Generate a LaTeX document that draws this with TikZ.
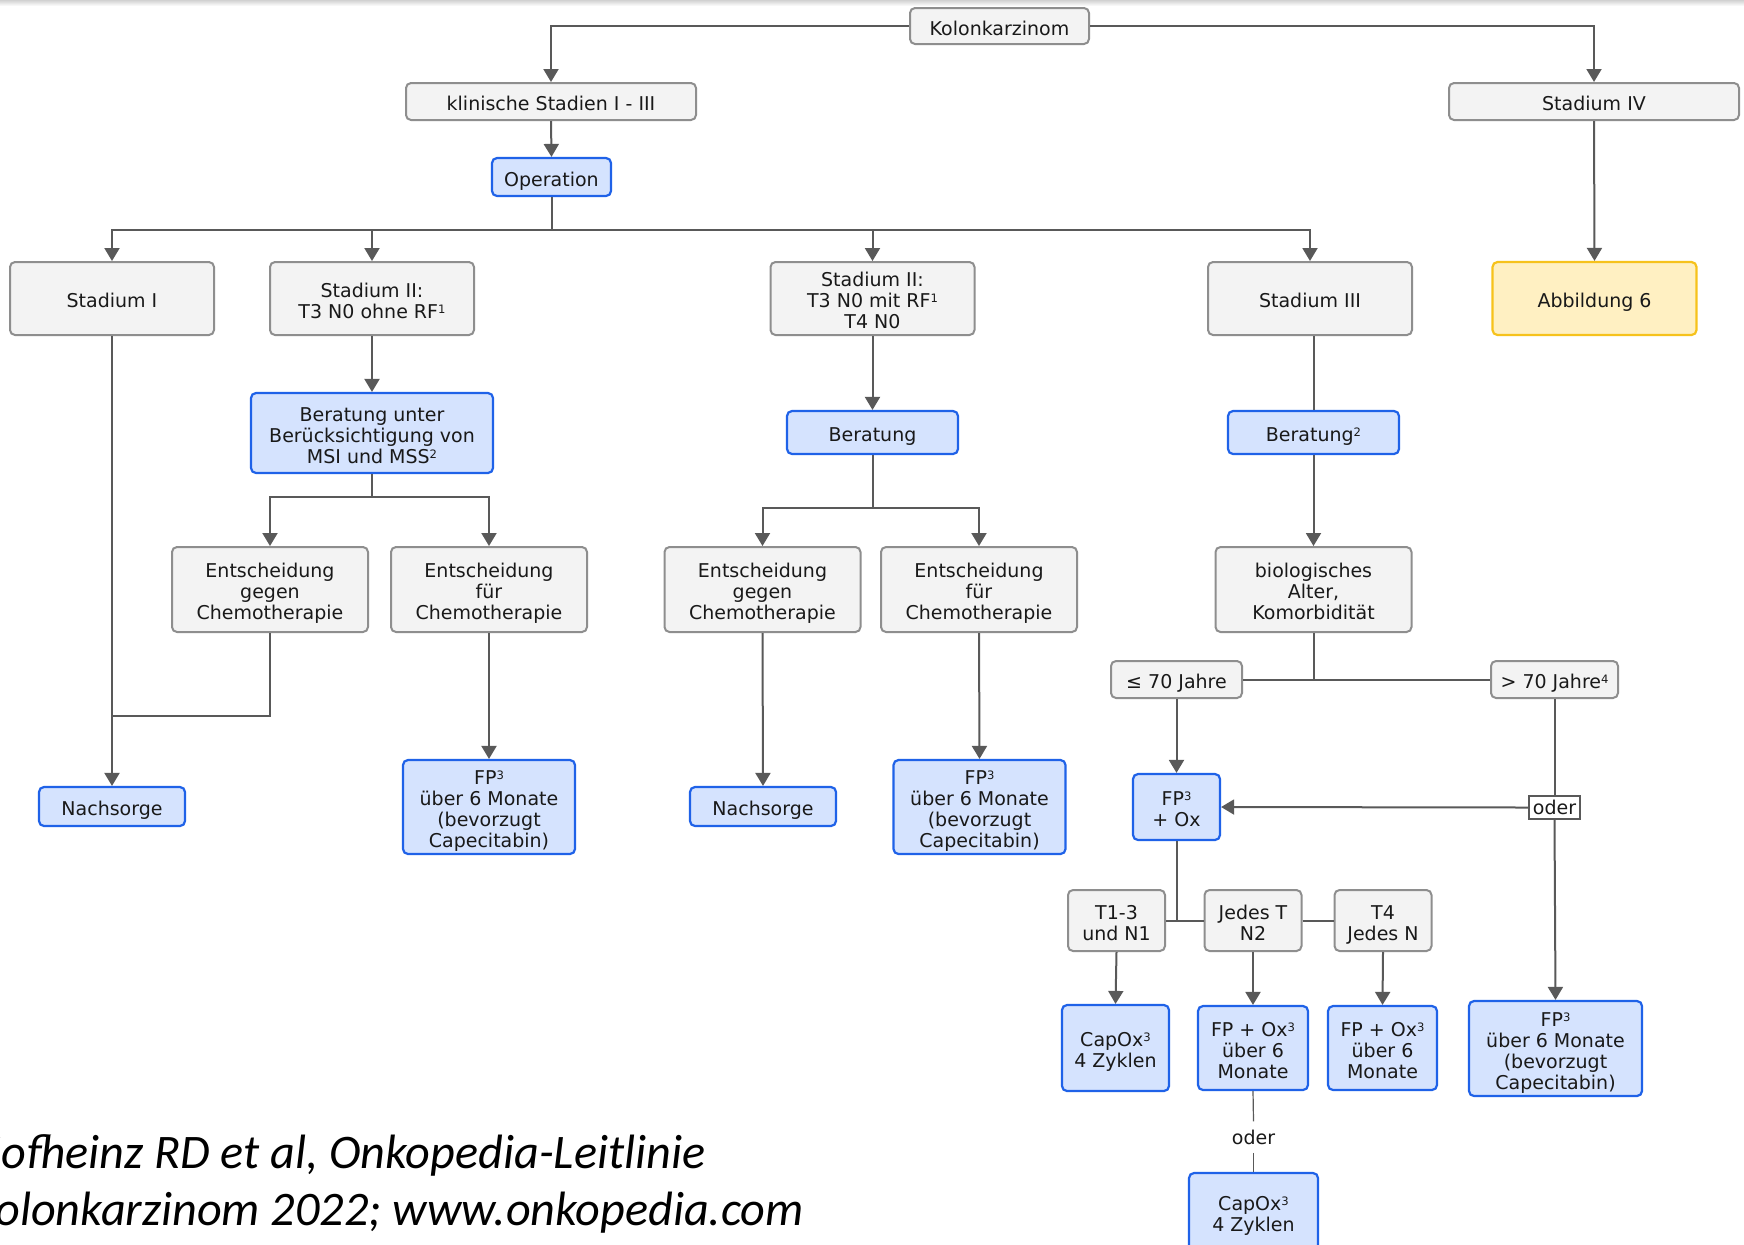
\documentclass[tikz,border=0pt]{standalone}
\usepackage{fontspec}
\setmainfont{DejaVu Sans}
\newfontfamily\citefont{Carlito}
\usetikzlibrary{arrows.meta,calc}
\definecolor{grayfill}{HTML}{F3F3F3}
\definecolor{graybd}{HTML}{8E8E8E}
\definecolor{bluefill}{HTML}{D5E3FE}
\definecolor{bluebd}{HTML}{1F62E8}
\definecolor{yelfill}{HTML}{FFF0C2}
\definecolor{yelbd}{HTML}{F6C21C}
\definecolor{linec}{HTML}{595959}
\newcommand{\bs}{\rule{0pt}{11.7pt}}
\newcommand{\es}{\rule[-2.5pt]{0pt}{0pt}}
\tikzset{
  plaintext/.style={font=\fontsize{9.5}{10.5}\selectfont, align=center, inner sep=0pt, text=black!90},
  boxtext/.style={plaintext,
    execute at begin node={\bs}, execute at end node={\es}},
  gbox/.style={boxtext, draw=graybd, fill=grayfill, line width=1pt, rounded corners=2.5pt},
  bbox/.style={boxtext, draw=bluebd, fill=bluefill, line width=1.1pt, rounded corners=2.5pt},
  ybox/.style={boxtext, draw=yelbd, fill=yelfill, line width=1.1pt, rounded corners=2.5pt},
  obox/.style={plaintext, draw=linec, fill=white, line width=1.1pt, minimum width=25.5pt, minimum height=11.5pt},
  conn/.style={draw=linec, line width=1pt},
  thin/.style={draw=linec, line width=0.6pt},
  arr/.style={conn, -{Triangle[width=7.5pt,length=6.5pt]}},
}
\newcommand{\sps}[1]{\raisebox{2.6pt}{\fontsize{5.8}{6}\selectfont #1}}
\begin{document}
\begin{tikzpicture}[x=0.5pt,y=-0.5pt]
\useasboundingbox (0,0) rectangle (1744,1244);
\fill[white] (0,0) rectangle (1744,1244);
\shade[top color=black!18, bottom color=white] (0,0) rectangle (1744,6);

% top levels
\node[gbox, minimum width=89.5pt, minimum height=18pt] (K) at (999.5,26) {Kolonkarzinom};
\node[gbox, minimum width=145pt, minimum height=18.5pt] (klin) at (551,101.5) {klinische Stadien I - III};
\node[gbox, minimum width=145pt, minimum height=18.5pt] (st4) at (1594,101.5) {Stadium IV};
\node[bbox, minimum width=59.5pt, minimum height=19pt] (op) at (551.5,177) {Operation};

% stadium row
\node[gbox, minimum width=102pt, minimum height=36.5pt] (s1) at (112,298.5) {Stadium I};
\node[gbox, minimum width=102pt, minimum height=36.5pt] (s2a) at (372,298.5) {\bs Stadium II:\\T3 N0 ohne RF\sps{1}\es};
\node[gbox, minimum width=102pt, minimum height=36.5pt] (s2b) at (872.5,298.5) {\bs Stadium II:\\T3 N0 mit RF\sps{1}\\T4 N0\es};
\node[gbox, minimum width=102pt, minimum height=36.5pt] (s3) at (1310,298.5) {Stadium III};
\node[ybox, minimum width=102pt, minimum height=36.5pt] (abb) at (1594.5,298.5) {Abbildung 6};

% Beratung row
\node[bbox, minimum width=121pt, minimum height=40pt] (bu) at (372,433) {\bs Beratung unter\\Berücksichtigung von\\MSI und MSS\sps{2}\es};
\node[bbox, minimum width=85.5pt, minimum height=21.5pt] (bm) at (872.5,432.5) {Beratung};
\node[bbox, minimum width=85.5pt, minimum height=21.5pt] (br) at (1313.5,432.5) {Beratung\sps{2}};

% Entscheidung row
\node[gbox, minimum width=98pt, minimum height=42.5pt] (eg1) at (270,589.5) {\bs Entscheidung\\gegen\\Chemotherapie\es};
\node[gbox, minimum width=98pt, minimum height=42.5pt] (ef1) at (489,589.5) {\bs Entscheidung\\für\\Chemotherapie\es};
\node[gbox, minimum width=98pt, minimum height=42.5pt] (eg2) at (762.5,589.5) {\bs Entscheidung\\gegen\\Chemotherapie\es};
\node[gbox, minimum width=98pt, minimum height=42.5pt] (ef2) at (979,589.5) {\bs Entscheidung\\für\\Chemotherapie\es};
\node[gbox, minimum width=98pt, minimum height=42.5pt] (bio) at (1313.5,589.5) {\bs biologisches\\Alter,\\Komorbidität\es};

% age boxes
\node[gbox, minimum width=65.5pt, minimum height=18.5pt] (le70) at (1176.5,679.5) {≤ 70 Jahre};
\node[gbox, minimum width=63.5pt, minimum height=18.5pt] (gt70) at (1554.5,679.5) {> 70 Jahre\sps{4}};

% results row
\node[bbox, minimum width=73pt, minimum height=19.5pt] (ns1) at (112,806.5) {Nachsorge};
\node[bbox, minimum width=86pt, minimum height=47pt] (fp1) at (489,807) {\bs FP\sps{3}\\über 6 Monate\\(bevorzugt\\Capecitabin)\es};
\node[bbox, minimum width=73pt, minimum height=19.5pt] (ns2) at (763,806.5) {Nachsorge};
\node[bbox, minimum width=86pt, minimum height=47pt] (fp2) at (979.5,807) {\bs FP\sps{3}\\über 6 Monate\\(bevorzugt\\Capecitabin)\es};
\node[bbox, minimum width=43.5pt, minimum height=33pt] (fpox) at (1176.5,807) {\bs FP\sps{3}\\+ Ox\es};
\node[obox] (oder1) at (1554.5,807.5) {oder};

% T row
\node[gbox, minimum width=48.5pt, minimum height=30.5pt] (t13) at (1116.5,920.5) {\bs T1-3\\und N1\es};
\node[gbox, minimum width=48.5pt, minimum height=30.5pt] (jt) at (1253,920.5) {\bs Jedes T\\N2\es};
\node[gbox, minimum width=48.5pt, minimum height=30.5pt] (t4) at (1383,920.5) {\bs T4\\Jedes N\es};

% bottom row
\node[bbox, minimum width=53.5pt, minimum height=43pt] (co1) at (1115.5,1048) {\bs CapOx\sps{3}\\4 Zyklen\es};
\node[bbox, minimum width=55pt, minimum height=42pt] (fo1) at (1253,1048) {\bs FP + Ox\sps{3}\\über 6\\Monate\es};
\node[bbox, minimum width=54.5pt, minimum height=42pt] (fo2) at (1382.5,1048) {\bs FP + Ox\sps{3}\\über 6\\Monate\es};
\node[bbox, minimum width=86.5pt, minimum height=47.5pt] (fp3) at (1555.5,1048.5) {\bs FP\sps{3}\\über 6 Monate\\(bevorzugt\\Capecitabin)\es};
\node[plaintext, inner ysep=4pt] (oder2) at (1253.5,1137) {oder};
\node[bbox, minimum width=64.5pt, minimum height=39pt] (co2) at (1253.5,1212) {\bs CapOx\sps{3}\\4 Zyklen\es};

% citation
\node[font=\citefont\itshape\fontsize{24.1}{28}\selectfont, anchor=base east, inner sep=0pt] (cite2) at (804,1225) {Kolonkarzinom 2022; www.onkopedia.com};
\node[font=\citefont\itshape\fontsize{24.1}{28}\selectfont, anchor=base west, inner sep=0pt] (cite1) at ($(cite2.base west)+(0,-57)$) {Hofheinz RD et al, Onkopedia-Leitlinie};

% connectors
\draw[arr] (K.west) -| (klin.north);
\draw[arr] (K.east) -| (st4.north);
\draw[arr] (klin.south) -- (op.north);
\draw[arr] (st4.south) -- (abb.north);
\coordinate (bus1) at (551.5,230);
\draw[conn] (op.south) -- (bus1);
\draw[arr] (bus1) -| (s1.north);
\draw[arr] (bus1) -| (s2a.north);
\draw[arr] (bus1) -| (s2b.north);
\draw[arr] (bus1) -| (s3.north);

\draw[arr] (s1.south) -- (ns1.north);
\coordinate (j1) at (112,716);
\draw[conn] (eg1.south) |- (j1);

\draw[arr] (s2a.south) -- (bu.north);
\coordinate (bus2) at (372,497);
\draw[conn] (bu.south) -- (bus2);
\draw[arr] (bus2) -| (eg1.north);
\draw[arr] (bus2) -| (ef1.north);
\draw[arr] (ef1.south) -- (fp1.north);

\draw[arr] (s2b.south) -- (bm.north);
\coordinate (bus3) at (872.5,508);
\draw[conn] (bm.south) -- (bus3);
\draw[arr] (bus3) -| (eg2.north);
\draw[arr] (bus3) -| (ef2.north);
\draw[arr] (eg2.south) -- (ns2.north);
\draw[arr] (ef2.south) -- (fp2.north);

\draw[conn] (br.north |- s3.south) -- (br.north);
\draw[arr] (br.south) -- (bio.north);
\coordinate (bus4) at (1313.5,679.5);
\draw[conn] (bio.south) -- (bus4);
\draw[conn] (le70.east) -- (gt70.west);
\draw[arr] (le70.south) -- (fpox.north);
\draw[conn] (gt70.south) -- (oder1.north);
\draw[arr] (oder1.west) -- (fpox.east);
\draw[arr] (oder1.south) -- (fp3.north);

\coordinate (bus5) at (1176.5,920.5);
\draw[conn] (fpox.south) -- (bus5);
\draw[conn] (t13.east) -- (jt.west);
\draw[conn] (jt.east) -- (t4.west);
\draw[arr] (t13.south) -- (co1.north);
\draw[arr] (jt.south) -- (fo1.north);
\draw[arr] (t4.south) -- (fo2.north);
\draw[thin] (fo1.south) -- (oder2.north);
\draw[thin] (oder2.south) -- (co2.north);
\end{tikzpicture}
\end{document}
